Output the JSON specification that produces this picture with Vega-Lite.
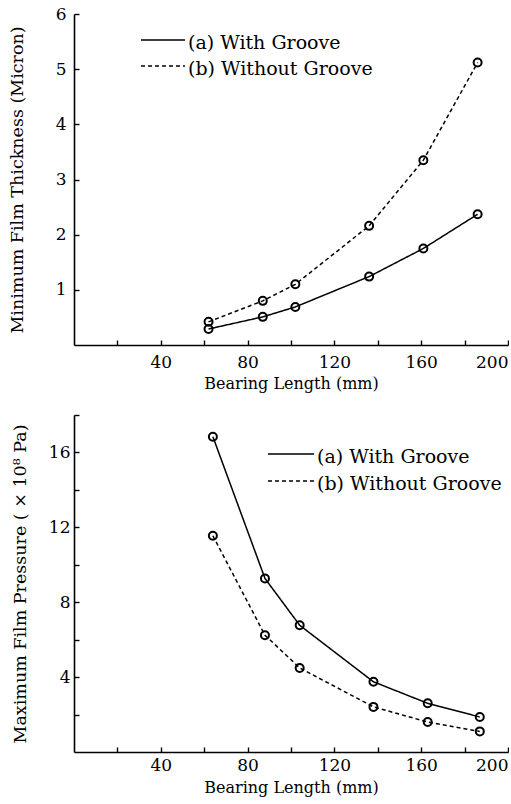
{
  "$schema": "https://vega.github.io/schema/vega-lite/v6.json",
  "padding": {"left": 8, "top": 5, "right": 0, "bottom": 20},
  "background": "white",
  "spacing": 70,
  "bounds": "flush",
  "datasets": {
    "thickness": [
      {"series": "a", "length": 62, "value": 0.29},
      {"series": "a", "length": 87, "value": 0.51},
      {"series": "a", "length": 102, "value": 0.69},
      {"series": "a", "length": 136, "value": 1.24},
      {"series": "a", "length": 161, "value": 1.75},
      {"series": "a", "length": 186, "value": 2.37},
      {"series": "b", "length": 62, "value": 0.42},
      {"series": "b", "length": 87, "value": 0.8},
      {"series": "b", "length": 102, "value": 1.1},
      {"series": "b", "length": 136, "value": 2.16},
      {"series": "b", "length": 161, "value": 3.35},
      {"series": "b", "length": 186, "value": 5.12}
    ],
    "pressure": [
      {"series": "a", "length": 64, "value": 16.84},
      {"series": "a", "length": 88, "value": 9.27},
      {"series": "a", "length": 104, "value": 6.77},
      {"series": "a", "length": 138, "value": 3.75},
      {"series": "a", "length": 163, "value": 2.6},
      {"series": "a", "length": 187, "value": 1.87},
      {"series": "b", "length": 64, "value": 11.55},
      {"series": "b", "length": 88, "value": 6.24},
      {"series": "b", "length": 104, "value": 4.49},
      {"series": "b", "length": 138, "value": 2.41},
      {"series": "b", "length": 163, "value": 1.6},
      {"series": "b", "length": 187, "value": 1.1}
    ]
  },
  "config": {
    "font": "DejaVu Serif",
    "view": {"stroke": null},
    "axis": {
      "grid": false,
      "domainColor": "black",
      "domainWidth": 1.6,
      "tickColor": "black",
      "tickWidth": 1.4,
      "tickSize": -5,
      "labelColor": "black",
      "titleColor": "black",
      "labelFont": "DejaVu Serif",
      "titleFont": "DejaVu Serif",
      "labelFontSize": 17,
      "titleFontWeight": "normal"
    },
    "legend": {
      "labelFont": "DejaVu Serif",
      "labelColor": "black",
      "labelLimit": 0
    }
  },
  "resolve": {"scale": {"strokeDash": "independent"}, "legend": {"strokeDash": "independent"}},
  "vconcat": [
    {
      "width": 434,
      "height": 331,
      "data": {"name": "thickness"},
      "layer": [
        {
          "mark": {"type": "line", "color": "black", "strokeWidth": 1.5},
          "encoding": {
            "x": {"field": "length", "type": "quantitative"},
            "y": {"field": "value", "type": "quantitative"},
            "strokeDash": {
              "field": "series", "type": "nominal",
              "scale": {"domain": ["a", "b"], "range": [[1, 0], [4, 3]]},
              "legend": {
                "orient": "none", "legendX": 78, "legendY": 15, "title": null,
                "symbolType": "M-2.2,0H2.2", "symbolSize": 400, "symbolStrokeWidth": 1.3,
                "symbolStrokeColor": "black", "labelFontSize": 19, "rowPadding": 2,
                "labelOffset": 14,
                "labelExpr": "datum.value == 'a' ? '(a) With  Groove' : '(b) Without Groove'",
                "encode": {"labels": {"update": {"dy": {"value": 3}}}}
              }
            }
          }
        },
        {
          "mark": {"type": "point", "shape": "circle", "filled": false, "color": "black", "strokeWidth": 2, "size": 64, "opacity": 1},
          "encoding": {
            "x": {"field": "length", "type": "quantitative",
              "scale": {"domain": [0, 200], "nice": false},
              "axis": {"title": "Bearing Length (mm)", "titleFontSize": 16, "values": [20, 40, 60, 80, 100, 120, 140, 160, 180, 200],
                "labelExpr": "datum.value % 40 == 0 ? datum.label : ''", "labelPadding": 14, "titlePadding": 5}},
            "y": {"field": "value", "type": "quantitative",
              "scale": {"domain": [0, 6], "nice": false},
              "axis": {"title": "Minimum  Film Thickness (Micron)", "titleFontSize": 17.5, "values": [1, 2, 3, 4, 5, 6], "format": "d", "labelPadding": 13, "titlePadding": 29}}
          }
        }
      ]
    },
    {
      "width": 434,
      "height": 337,
      "data": {"name": "pressure"},
      "layer": [
        {
          "mark": {"type": "line", "color": "black", "strokeWidth": 1.5},
          "encoding": {
            "x": {"field": "length", "type": "quantitative"},
            "y": {"field": "value", "type": "quantitative"},
            "strokeDash": {
              "field": "series", "type": "nominal",
              "scale": {"domain": ["a", "b"], "range": [[1, 0], [4, 3]]},
              "legend": {
                "orient": "none", "legendX": 206, "legendY": 28, "title": null,
                "symbolType": "M-2.3,0H2.3", "symbolSize": 400, "symbolStrokeWidth": 1.3,
                "symbolStrokeColor": "black", "labelFontSize": 19, "rowPadding": 3,
                "labelOffset": 15,
                "labelExpr": "datum.value == 'a' ? '(a) With Groove' : '(b) Without  Groove'",
                "encode": {"labels": {"update": {"dy": {"value": 3}}}}
              }
            }
          }
        },
        {
          "mark": {"type": "point", "shape": "circle", "filled": false, "color": "black", "strokeWidth": 2, "size": 64, "opacity": 1},
          "encoding": {
            "x": {"field": "length", "type": "quantitative",
              "scale": {"domain": [0, 200], "nice": false},
              "axis": {"title": "Bearing Length (mm)", "titleFontSize": 16, "values": [20, 40, 60, 80, 100, 120, 140, 160, 180, 200],
                "labelExpr": "datum.value % 40 == 0 ? datum.label : ''", "labelPadding": 10, "titlePadding": 6}},
            "y": {"field": "value", "type": "quantitative",
              "scale": {"domain": [0, 18], "nice": false},
              "axis": {"title": "Maximum Film Pressure ( × 10⁸ Pa)", "titleFontSize": 17.5, "values": [2, 4, 6, 8, 10, 12, 14, 16, 18],
                "labelExpr": "datum.value % 4 == 0 && datum.value < 18 ? datum.label : ''", "labelPadding": 9, "titlePadding": 19}}
          }
        }
      ]
    }
  ]
}
